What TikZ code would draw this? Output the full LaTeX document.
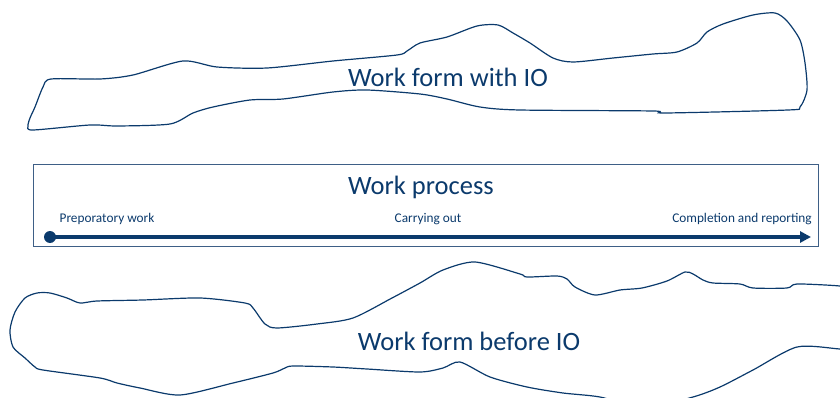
\documentclass[tikz,border=0pt]{standalone}
\usepackage{fontspec}
\setmainfont{Carlito}
\usepackage{xcolor}
\usetikzlibrary{arrows.meta, positioning}

\definecolor{navy}{HTML}{0B3A6C}
\definecolor{frame}{HTML}{3E5F86}

\begin{document}
\begin{tikzpicture}[x=1pt, y=-1pt, >={Triangle[length=11pt, width=11pt]}]
	\tikzstyle{blob} = [draw=navy, line width=1.2pt, smooth cycle, tension=0.45]
	\tikzstyle{title} = [text=navy, font=\fontsize{26.5}{30}\selectfont, inner sep=0pt]
	\tikzstyle{stage} = [text=navy, font=\fontsize{13.3}{16}\selectfont, inner sep=0pt]
	\tikzstyle{timeline} = [->, draw=navy, line width=3.5pt]
	
	\useasboundingbox (0, 0) rectangle (840, 398);
	
	% upper outline
	\draw[blob] plot coordinates {(51,79) (100,79) (133,75) (183,61) (217,67) (267,68) (333,61)
		(397,55) (407,51) (420,43) (447,37) (477,26) (498,25) (513,33) (530,43) (553,58)
		(573,62) (613,58) (653,54) (677,52) (697,43) (707,32) (723,24) (753,15) (775,13)
		(787,21) (800,40) (805,63) (807,90) (800,107) (788,110) (665,113) (653,111)
		(520,110) (480,107) (447,99) (420,94) (367,90) (333,92) (283,99) (250,100)
		(213,107) (193,113) (170,124) (117,126) (90,125) (33,130) (28,126)
		(30,118) (35,107) (43,87)};
	
	% lower outline, runs off the page
	\begin{scope}
		\clip (0, 0) rectangle (840, 398);
		\draw[blob] plot coordinates {(80,303) (97,301) (143,300) (200,298) (245,303) (253,308)
			(265,324) (277,328) (317,324) (353,318) (392,298) (420,283) (443,270) (475,262)
			(520,274) (527,277) (557,276) (567,279) (575,287) (595,295) (620,290) (642,288)
			(667,281) (685,272) (693,274) (703,280) (713,283) (740,284) (753,288) (787,288)
			(797,284) (840,286) (860,290) (860,350) (840,349) (797,347) (753,370) (720,387)
			(693,397) (645,408) (600,397) (563,393) (527,387) (490,377) (460,362) (443,368)
			(420,372) (367,369) (333,367) (293,366) (285,368) (273,373) (233,383) (180,395)
			(140,388) (117,383) (100,378) (43,370) (35,367) (25,358) (13,347) (10,330)
			(15,312) (25,298) (37,293) (50,293) (67,298)};
	\end{scope}
	
	\node[title] at (448, 77) (with) {Work form with IO};
	\node[title] at (469, 341) (before) {Work form before IO};
	
	% process box
	\draw[frame, line width=1pt] (33, 165) rectangle (818, 246);
	\node[title] at (421, 187) (process) {Work process};
	
	\node[stage] at (107, 219) (prep) {Preporatory work};
	\node[stage] at (428, 219) (carry) {Carrying out};
	\node[stage] at (742, 219) (done) {Completion and reporting};
	
	\node[circle, fill=navy, inner sep=0pt, minimum size=12pt] at (50, 237) (start) {};
	\coordinate (finish) at (811, 237);
	
	\path
	(start.center)	edge[timeline]	node	{}	(finish);
\end{tikzpicture}
\end{document}
